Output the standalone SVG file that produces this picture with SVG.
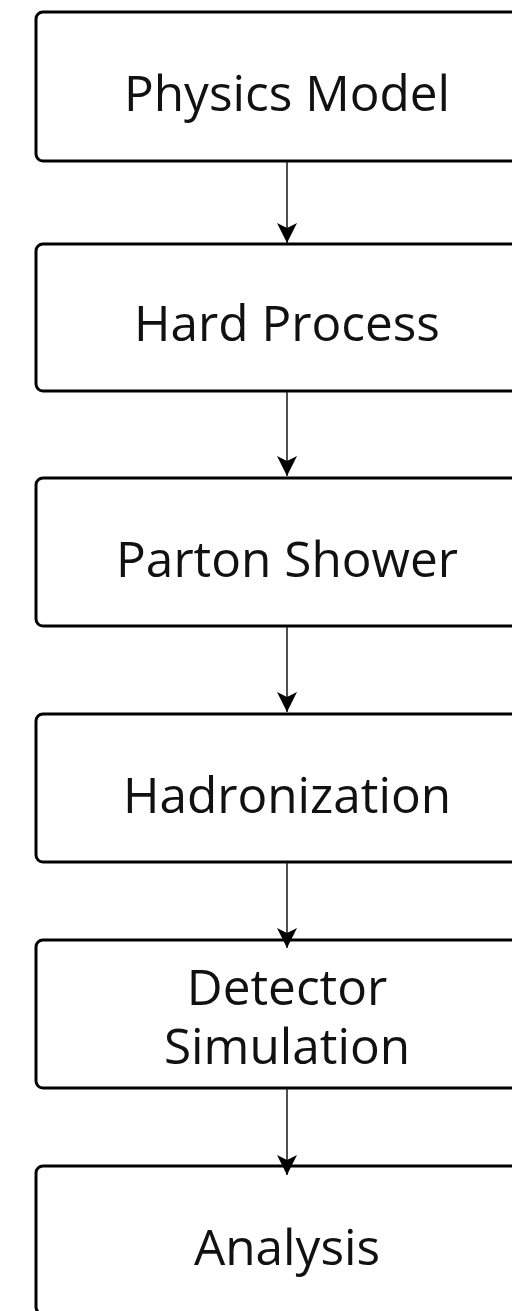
<svg xmlns="http://www.w3.org/2000/svg" width="512" height="1311" viewBox="0 0 512 1311">
  <style>
    .box { fill: #ffffff; stroke: #000000; stroke-width: 3; }
    .label { font-family: "Open Sans", "Noto Sans", sans-serif; font-size: 49.5px; fill: #111111; text-anchor: middle; }
    .edge { stroke: #222222; stroke-width: 1.6; fill: none; }
  </style>
  <defs>
    <marker id="arrow" viewBox="0 0 20 20" refX="20" refY="10" markerWidth="20" markerHeight="20" markerUnits="userSpaceOnUse" orient="auto">
      <path d="M0,0 L20,10 L0,20 L5,10 z" fill="#000000"/>
    </marker>
  </defs>
  <rect width="512" height="1311" fill="#ffffff"/>

  <g id="physics-model">
    <rect class="box" x="36" y="12" width="502" height="149" rx="7"/>
    <text class="label" x="287" y="111">Physics Model</text>
  </g>
  <g id="hard-process">
    <rect class="box" x="36" y="244" width="502" height="147" rx="7"/>
    <text class="label" x="287" y="341">Hard Process</text>
  </g>
  <g id="parton-shower">
    <rect class="box" x="36" y="478" width="502" height="148" rx="7"/>
    <text class="label" x="287" y="577">Parton Shower</text>
  </g>
  <g id="hadronization">
    <rect class="box" x="36" y="714" width="502" height="148" rx="7"/>
    <text class="label" x="287" y="813">Hadronization</text>
  </g>
  <g id="detector-simulation">
    <rect class="box" x="36" y="940" width="502" height="148" rx="7"/>
    <text class="label" x="287" y="1005">Detector</text>
    <text class="label" x="287" y="1064">Simulation</text>
  </g>
  <g id="analysis">
    <rect class="box" x="36" y="1166" width="502" height="148" rx="7"/>
    <text class="label" x="287" y="1265">Analysis</text>
  </g>

  <!-- connectors sit above the boxes so the arrowheads overlap the outlines -->
  <g id="connectors">
    <line class="edge" x1="287" y1="162" x2="287" y2="243" marker-end="url(#arrow)"/>
    <line class="edge" x1="287" y1="392" x2="287" y2="476" marker-end="url(#arrow)"/>
    <line class="edge" x1="287" y1="627" x2="287" y2="712" marker-end="url(#arrow)"/>
    <line class="edge" x1="287" y1="863" x2="287" y2="948" marker-end="url(#arrow)"/>
    <line class="edge" x1="287" y1="1089" x2="287" y2="1175" marker-end="url(#arrow)"/>
  </g>
</svg>
